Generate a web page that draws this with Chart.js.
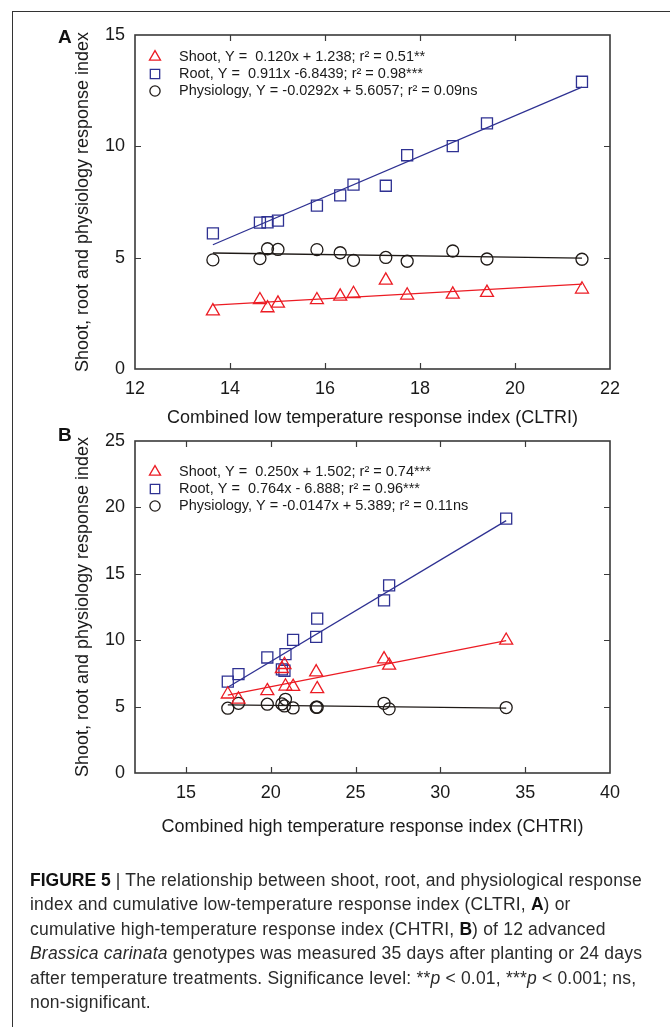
<!DOCTYPE html>
<html>
<head>
<meta charset="utf-8">
<script src="https://cdn.jsdelivr.net/npm/chart.js@4.4.1/dist/chart.umd.min.js"></script>
<style>
  html, body { margin: 0; padding: 0; background: #fff; }
  body { width: 670px; height: 1027px; position: relative; overflow: hidden; font-family: "Liberation Sans", Arial, sans-serif; }
  .frame { position: absolute; left: 12px; top: 11px; width: 700px; height: 1100px; border-left: 1.5px solid #333; border-top: 1.5px solid #333; }
  .box { position: absolute; left: 0; width: 670px; }
  #boxA { top: 0; height: 445px; }
  #boxB { top: 420px; height: 440px; }
  .tag { position: absolute; font-weight: bold; font-size: 19px; color: #111; }
  .caption { position: absolute; left: 30px; top: 868px; width: 640px; font-size: 17.5px; letter-spacing: 0.2px; line-height: 24.4px; color: #2a2a2a; white-space: nowrap; }
  .caption b { color: #111; letter-spacing: 0; }
</style>
</head>
<body>
<div class="frame"></div>
<div class="box" id="boxA"><canvas id="chartA"></canvas></div>
<div class="box" id="boxB"><canvas id="chartB"></canvas></div>
<div class="tag" style="left:58px;top:26px">A</div>
<div class="tag" style="left:58px;top:424px">B</div>
<div class="caption">
<b>FIGURE 5</b> | The relationship between shoot, root, and physiological response<br>
index and cumulative low-temperature response index (CLTRI, <b>A</b>) or<br>
cumulative high-temperature response index (CHTRI, <b>B</b>) of 12 advanced<br>
<i>Brassica carinata</i> genotypes was measured 35 days after planting or 24 days<br>
after temperature treatments. Significance level: **<i>p</i> &lt; 0.01, ***<i>p</i> &lt; 0.001; ns,<br>
non-significant.
</div>
<script>
// panel A: low temperature
const cltri = [13.64, 14.63, 14.79, 15.01, 15.83, 16.32, 16.60, 17.28, 17.73, 18.69, 19.41, 21.41];
const shootA = [2.60, 3.10, 2.74, 2.95, 3.10, 3.26, 3.38, 3.98, 3.31, 3.35, 3.43, 3.58];
const rootA = [6.09, 6.57, 6.59, 6.66, 7.34, 7.80, 8.28, 8.23, 9.60, 10.01, 11.03, 12.90];
const physA = [4.90, 4.96, 5.40, 5.37, 5.36, 5.22, 4.88, 5.01, 4.84, 5.30, 4.94, 4.93];
const fitXA = [13.64, 21.41];
const shootFitA = [2.87, 3.81];
const rootFitA = [5.58, 12.66];
const physFitA = [5.21, 4.98];
const legendA = [
  'Shoot, Y =  0.120x + 1.238; r\u00b2 = 0.51**',
  'Root, Y =  0.911x -6.8439; r\u00b2 = 0.98***',
  'Physiology, Y = -0.0292x + 5.6057; r\u00b2 = 0.09ns'
];

// panel B: high temperature
const chtri = [17.47, 18.10, 19.80, 20.66, 20.81, 20.87, 21.32, 22.68, 22.74, 26.68, 26.98, 33.88];
const shootB = [5.93, 5.55, 6.18, 7.85, 8.15, 6.53, 6.50, 7.60, 6.33, 8.58, 8.10, 9.98];
const rootB = [6.88, 7.45, 8.70, 7.80, 7.70, 8.95, 10.03, 10.25, 11.63, 13.00, 14.13, 19.15];
const physB = [4.88, 5.25, 5.18, 5.20, 5.05, 5.55, 4.90, 4.95, 4.95, 5.25, 4.83, 4.93];
const fitXB = [17.47, 33.88];
const shootFitB = [5.87, 9.97];
const rootFitB = [6.46, 19.00];
const physFitB = [5.13, 4.89];
const legendB = [
  'Shoot, Y =  0.250x + 1.502; r\u00b2 = 0.74***',
  'Root, Y =  0.764x - 6.888; r\u00b2 = 0.96***',
  'Physiology, Y = -0.0147x + 5.389; r\u00b2 = 0.11ns'
];

const RED = '#ec1c24', BLUE = '#2e3192', BLACK = '#1f1a17';
const styles = [
  { point: 'triangle', color: RED, radius: 7.5 },
  { point: 'rect', color: BLUE, radius: 7.8 },
  { point: 'circle', color: BLACK, radius: 6 }
];

Chart.defaults.font.family = '"Liberation Sans", Arial, sans-serif';
Chart.defaults.color = '#1a1a1a';

const pts = (xs, ys) => xs.map((x, i) => ({ x, y: ys[i] }));

function drawMarker(ctx, s, x, y) {
  ctx.beginPath();
  if (s.point === 'triangle') {
    const r = s.radius;
    ctx.moveTo(x, y - r);
    ctx.lineTo(x + r * Math.sin(2 * Math.PI / 3), y - r * Math.cos(2 * Math.PI / 3));
    ctx.lineTo(x + r * Math.sin(4 * Math.PI / 3), y - r * Math.cos(4 * Math.PI / 3));
    ctx.closePath();
  } else if (s.point === 'rect') {
    const h = s.radius * Math.SQRT1_2;
    ctx.rect(x - h, y - h, 2 * h, 2 * h);
  } else {
    ctx.arc(x, y, s.radius, 0, Math.PI * 2);
  }
  ctx.stroke();
}

const framePlugin = {
  id: 'frame',
  afterDraw(chart, args, opts) {
    const { ctx, chartArea: a, scales: { x, y } } = chart;
    ctx.save();
    ctx.strokeStyle = '#3a3a3a';
    ctx.lineWidth = 1.2;
    ctx.beginPath();
    x.ticks.forEach(t => {
      if (t.value <= x.min || t.value >= x.max) return;
      const px = Math.round(x.getPixelForValue(t.value)) + 0.5;
      ctx.moveTo(px, a.bottom); ctx.lineTo(px, a.bottom - 6);
      ctx.moveTo(px, a.top); ctx.lineTo(px, a.top + 6);
    });
    y.ticks.forEach(t => {
      if (t.value <= y.min || t.value >= y.max) return;
      const py = Math.round(y.getPixelForValue(t.value)) + 0.5;
      ctx.moveTo(a.left, py); ctx.lineTo(a.left + 6, py);
      ctx.moveTo(a.right, py); ctx.lineTo(a.right - 6, py);
    });
    ctx.stroke();
    ctx.lineWidth = 1.6;
    ctx.strokeRect(a.left, a.top, a.right - a.left, a.bottom - a.top);

    // legend inside plot
    ctx.font = '14.5px "Liberation Sans", Arial, sans-serif';
    ctx.textBaseline = 'middle';
    ctx.fillStyle = '#1a1a1a';
    opts.labels.forEach((txt, i) => {
      const s = styles[i];
      const ly = opts.rows[i];
      ctx.strokeStyle = s.color;
      ctx.lineWidth = 1.3;
      drawMarker(ctx, { point: s.point, radius: s.radius * 0.85 }, 155, ly);
      ctx.fillText(txt, 179, ly);
    });
    ctx.restore();
  }
};

function makeChart(id, xs, series, fitX, fits, cfg) {
  const datasets = [];
  series.forEach((ys, i) => {
    const s = styles[i];
    datasets.push({
      type: 'scatter',
      data: pts(xs, ys),
      pointStyle: s.point,
      pointRadius: s.radius,
      pointBorderColor: s.color,
      pointBackgroundColor: 'rgba(0,0,0,0)',
      pointBorderWidth: 1.3
    });
  });
  fits.forEach((ys, i) => {
    datasets.push({
      type: 'line',
      data: pts(fitX, ys),
      borderColor: styles[i].color,
      borderWidth: 1.3,
      pointRadius: 0,
      fill: false
    });
  });

  return new Chart(document.getElementById(id), {
    type: 'scatter',
    data: { datasets },
    plugins: [framePlugin],
    options: {
      responsive: true,
      maintainAspectRatio: false,
      animation: false,
      layout: { padding: { left: 0, right: 60, top: cfg.top, bottom: 0 } },
      plugins: {
        legend: { display: false },
        tooltip: { enabled: false },
        frame: { labels: cfg.legend, rows: cfg.rows }
      },
      scales: {
        x: {
          type: 'linear',
          min: cfg.xMin, max: cfg.xMax,
          grid: { display: false, drawTicks: false },
          border: { display: false },
          ticks: {
            stepSize: cfg.xStep, padding: 9, font: { size: 18 }, color: '#1a1a1a',
            callback: v => (cfg.hideFirst && v === cfg.xMin) ? null : v
          },
          title: {
            display: true, text: cfg.xTitle, font: { size: 18 }, color: '#1a1a1a',
            padding: { top: 0, bottom: cfg.xTitlePad }
          },
          afterFit: s => { s.height = cfg.xAxisH; }
        },
        y: {
          min: 0, max: cfg.yMax,
          grid: { display: false, drawTicks: false },
          border: { display: false },
          ticks: { stepSize: 5, padding: 10, font: { size: 18 }, color: '#1a1a1a' },
          title: {
            display: true, text: 'Shoot, root and physiology response index', font: { size: 18 }, color: '#1a1a1a',
            padding: { top: 72, bottom: 0 }
          },
          afterFit: s => { s.width = 135; }
        }
      }
    }
  });
}

makeChart('chartA', cltri, [shootA, rootA, physA], fitXA, [shootFitA, rootFitA, physFitA], {
  top: 35, xMin: 12, xMax: 22, xStep: 2, yMax: 15, xAxisH: 76, xTitlePad: 16,
  xTitle: 'Combined low temperature response index (CLTRI)',
  legend: legendA, rows: [57, 74, 91]
});

makeChart('chartB', chtri, [shootB, rootB, physB], fitXB, [shootFitB, rootFitB, physFitB], {
  top: 21, xMin: 12, xMax: 40, xStep: 5, yMax: 25, xAxisH: 87, xTitlePad: 22, hideFirst: true,
  xTitle: 'Combined high temperature response index (CHTRI)',
  legend: legendB, rows: [52, 69, 86]
});
</script>
</body>
</html>
